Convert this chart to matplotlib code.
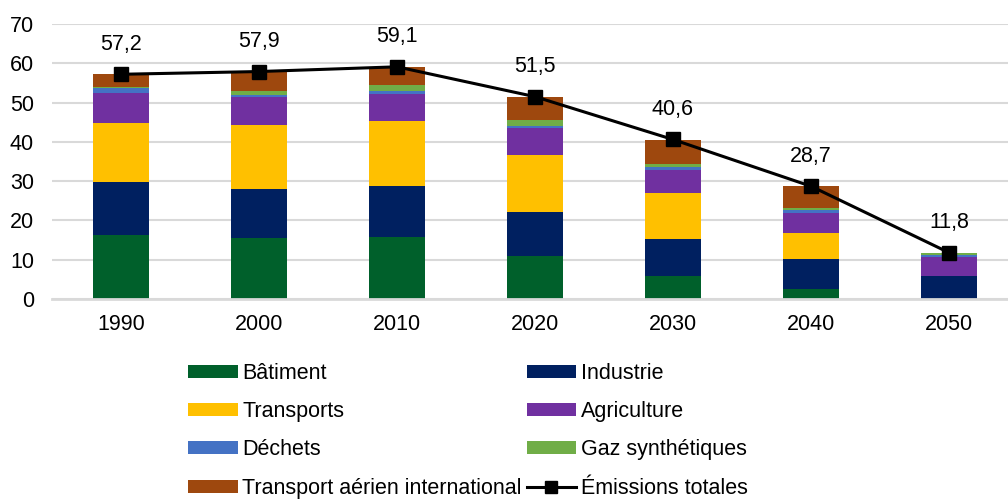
import matplotlib.pyplot as plt
from matplotlib.patches import Patch
from matplotlib.lines import Line2D
import numpy as np

plt.rcParams['font.family'] = ['Liberation Sans', 'DejaVu Sans']

years = ["1990", "2000", "2010", "2020", "2030", "2040", "2050"]

batiment = [16.4, 15.5, 15.7, 11.0, 5.8, 2.5, 0.0]
industrie = [13.5, 12.6, 13.0, 11.2, 9.5, 7.8, 5.9]
transports = [14.9, 16.1, 16.6, 14.5, 11.6, 6.5, 0.0]
agriculture = [7.7, 7.1, 7.0, 6.7, 5.9, 5.2, 4.7]
dechets = [1.1, 0.7, 0.7, 0.6, 0.7, 0.6, 0.6]
gaz = [0.4, 1.0, 1.5, 1.5, 0.8, 0.6, 0.6]
aerien = [3.2, 4.9, 4.6, 6.0, 6.3, 5.5, 0.0]
totales = [57.2, 57.9, 59.1, 51.5, 40.6, 28.7, 11.8]

series = [
    ("Bâtiment", batiment, "#00602B"),
    ("Industrie", industrie, "#002060"),
    ("Transports", transports, "#FFC000"),
    ("Agriculture", agriculture, "#7030A0"),
    ("Déchets", dechets, "#4472C4"),
    ("Gaz synthétiques", gaz, "#70AD47"),
    ("Transport aérien international", aerien, "#9E480E"),
]

fig = plt.figure(figsize=(10.08, 5), dpi=100)
ax = fig.add_axes([52 / 1008, 1 - 299 / 500, 966 / 1008, 275 / 500])

x = np.arange(len(years))
bottom = np.zeros(len(years))
handles = {}
for name, vals, color in series:
    ax.bar(x, vals, width=0.4, bottom=bottom, color=color, zorder=2)
    bottom += np.array(vals)
    handles[name] = Patch(facecolor=color, label=name)

ax.plot(x, totales, color="black", linewidth=2.2, marker="s", markersize=10, zorder=3)
for xi, v in zip(x, totales):
    ax.annotate(f"{v:.1f}".replace(".", ","), (xi, v), xytext=(0, 14),
                textcoords="offset points", ha="center", va="bottom", fontsize=15.5)
handles["Émissions totales"] = Line2D([], [], color="black", linewidth=2.2,
                                     marker="s", markersize=8, label="Émissions totales")

ax.set_xlim(-0.5, len(years) - 0.5)
ax.set_ylim(0, 70)
ax.set_yticks(range(0, 71, 10))
ax.set_xticks(x)
ax.set_xticklabels(years)
ax.tick_params(axis="both", length=0, labelsize=15.5)
ax.tick_params(axis="y", pad=13)
ax.tick_params(axis="x", pad=11)
ax.grid(axis="y", color="#d9d9d9", linewidth=1.5, zorder=0)
ax.set_axisbelow(True)
for s in ["top", "right", "left"]:
    ax.spines[s].set_visible(False)
ax.spines["bottom"].set_color("#d9d9d9")
ax.spines["bottom"].set_linewidth(2)

order = ["Bâtiment", "Transports", "Déchets", "Transport aérien international",
         "Industrie", "Agriculture", "Gaz synthétiques", "Émissions totales"]
fig.legend([handles[k] for k in order], order, ncol=2, loc="upper left",
           bbox_to_anchor=(188 / 1008, 1 - 363 / 500), frameon=False,
           fontsize=15.5, handlelength=2.3, handleheight=0.55, handletextpad=0.22,
           columnspacing=0.23, labelspacing=0.8, borderpad=0, borderaxespad=0)

fig.savefig("out.png", dpi=100)
